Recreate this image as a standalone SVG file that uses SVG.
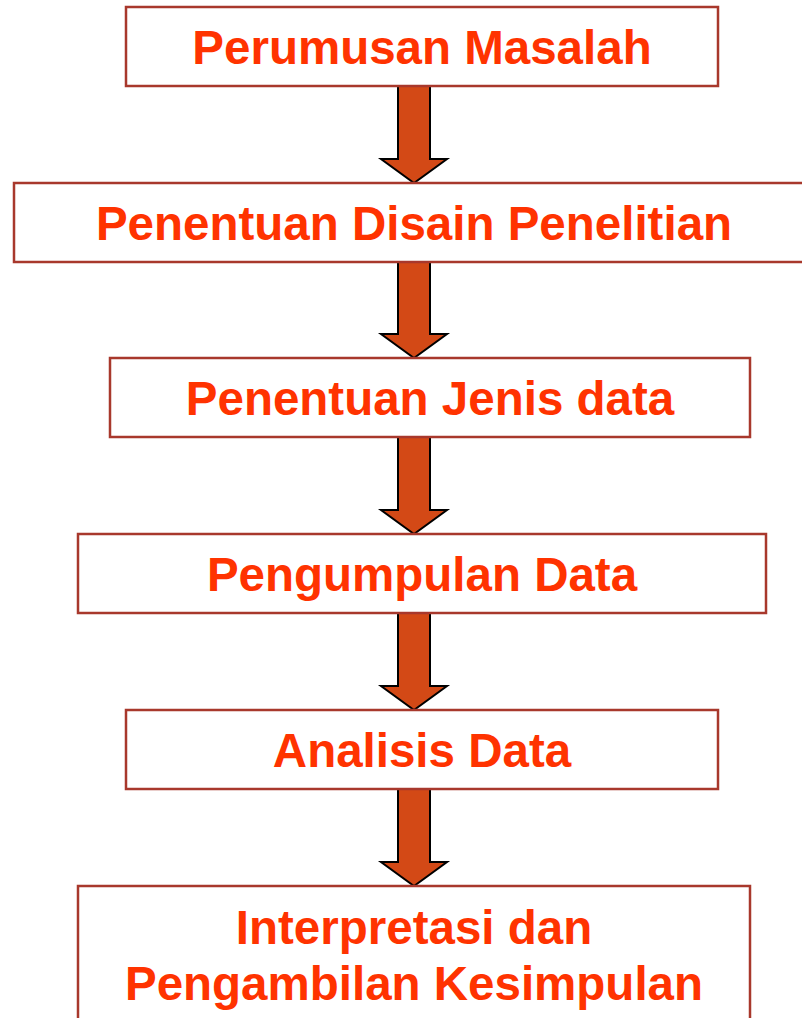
<svg xmlns="http://www.w3.org/2000/svg" width="802" height="1018" viewBox="0 0 802 1018">
<style>
.box{fill:#fff;stroke:#A8382C;stroke-width:2.5}
.lbl{font-family:"Liberation Sans",Arial,sans-serif;font-weight:bold;font-size:47.5px;fill:#FF3300;text-anchor:middle}
.arr{fill:#D34916;stroke:#000;stroke-width:2;stroke-linejoin:miter}
</style>
<rect width="802" height="1018" fill="#fff"/>
<g id="connectors">
<polygon class="arr" points="398,86 430,86 430,159 447,159 414,183 381,159 398,159"/>
<polygon class="arr" points="398,262 430,262 430,334 447,334 414,358 381,334 398,334"/>
<polygon class="arr" points="398,437 430,437 430,510 447,510 414,534 381,510 398,510"/>
<polygon class="arr" points="398,613 430,613 430,686 447,686 414,710 381,686 398,686"/>
<polygon class="arr" points="398,789 430,789 430,862 447,862 414,886 381,862 398,862"/>
</g>
<g id="n1"><rect class="box" x="126" y="7" width="592" height="79"/><text class="lbl" x="422" y="63.5">Perumusan Masalah</text></g>
<g id="n2"><rect class="box" x="14" y="183" width="800" height="79"/><text class="lbl" x="414" y="239.5">Penentuan Disain Penelitian</text></g>
<g id="n3"><rect class="box" x="110" y="358" width="640" height="79"/><text class="lbl" x="430" y="414.5">Penentuan Jenis data</text></g>
<g id="n4"><rect class="box" x="78" y="534" width="688" height="79"/><text class="lbl" x="422" y="590.5">Pengumpulan Data</text></g>
<g id="n5"><rect class="box" x="126" y="710" width="592" height="79"/><text class="lbl" x="422" y="766.5">Analisis Data</text></g>
<g id="n6"><rect class="box" x="78" y="886" width="672" height="150"/><text class="lbl" x="414" y="944">Interpretasi dan</text><text class="lbl" x="414" y="1000">Pengambilan Kesimpulan</text></g>
</svg>
